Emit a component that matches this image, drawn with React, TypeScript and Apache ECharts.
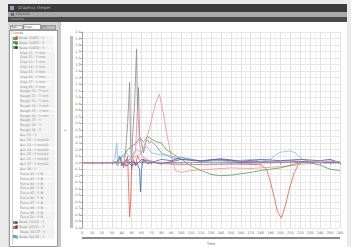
import React, { useEffect, useRef } from "react";
import * as echarts from "echarts";

// ---- data (x = time units, y = response) ----
const grayCurve: number[][] = [
  [0, 0], [30, 0], [34, 0.02], [36, -0.05], [38, 0.1], [40, 0.05], [42, -0.08], [44, 0.2], [46, 0.6], [48, 1.23],
  [49, 0.3], [50, -0.1], [51, 0.4], [53, 0.9], [55, 1.74], [56, 0.8], [57, 1.15], [58, 0.4], [60, 0.3], [62, 0.15],
  [64, 0.3], [66, 0.35], [68, 0.3], [70, 0.33], [75, 0.25], [80, 0.15], [90, 0.08], [100, 0.05], [120, 0.02],
  [150, 0.04], [180, 0.0], [210, 0.03], [240, 0.0], [260, 0.0],
];
const redCurve: number[][] = [
  [0, 0], [40, 0], [44, -0.05], [46, 0.1], [47, -0.4], [48, -0.83], [49, -0.6], [50, -0.1], [52, 0.05], [54, -0.05],
  [56, 0.1], [58, 0.05], [60, 0.02], [70, 0.0], [90, -0.02], [120, -0.03], [150, -0.02], [180, -0.03], [186, -0.1],
  [190, -0.3], [194, -0.55], [197, -0.75], [201, -0.85], [205, -0.65], [209, -0.4], [214, -0.15], [219, 0.0],
  [230, 0.02], [245, 0.0], [260, 0.0],
];
const salmonCurve: number[][] = [
  [0, 0], [42, 0], [48, 0.05], [55, 0.1], [60, 0.15], [65, 0.35], [70, 0.65], [74, 0.9], [78, 1.05], [82, 0.75],
  [86, 0.4], [90, 0.1], [94, -0.12], [100, -0.15], [110, -0.12], [130, -0.1], [150, -0.08], [170, -0.09],
  [190, -0.07], [210, -0.05], [222, -0.02], [240, 0.0], [260, 0.0],
];
const greenCurve: number[][] = [
  [0, 0], [35, 0], [38, 0.05], [42, 0.1], [46, 0.2], [50, 0.25], [55, 0.3], [58, 0.38], [62, 0.32], [66, 0.4],
  [70, 0.36], [75, 0.32], [80, 0.3], [85, 0.2], [90, 0.15], [95, 0.1], [100, 0.05], [110, -0.05], [120, -0.12],
  [130, -0.18], [140, -0.2], [150, -0.19], [160, -0.17], [170, -0.15], [180, -0.12], [190, -0.1], [200, -0.08],
  [210, -0.04], [220, 0.0], [230, 0.0], [240, -0.04], [250, -0.1], [260, -0.12],
];
const blueCurve: number[][] = [
  [0, 0], [35, 0], [38, 0.1], [40, -0.05], [45, 0.05], [50, -0.05], [55, 0.0], [58, -0.1], [59, -0.45], [60, -0.1],
  [62, 0.05], [66, -0.02], [70, 0.0], [80, 0.05], [90, 0.03], [100, 0.08], [110, 0.05], [120, 0.02], [130, 0.04],
  [140, 0.05], [160, 0.0], [180, 0.02], [200, 0.0], [220, 0.02], [240, 0.0], [260, 0.0],
];
const lightBlueCurve: number[][] = [
  [0, 0], [30, 0], [33, 0.05], [35, 0.3], [36, 0.05], [40, 0.1], [45, 0.15], [50, 0.05], [55, 0.2], [60, 0.15],
  [65, 0.25], [70, 0.15], [80, 0.12], [90, 0.1], [100, 0.08], [110, 0.05], [130, 0.0], [150, 0.02], [170, 0.05],
  [180, 0.02], [190, 0.05], [195, 0.12], [200, 0.16], [210, 0.18], [215, 0.15], [222, 0.05], [230, 0.02],
  [240, 0.0], [250, 0.03], [260, 0.0],
];
const navyCurve: number[][] = [
  [0, 0], [40, 0], [45, -0.05], [50, 0.02], [55, -0.03], [60, 0.05], [70, 0.02], [80, -0.02], [100, 0.05],
  [120, 0.03], [140, 0.06], [160, 0.02], [180, 0.05], [200, 0.03], [220, 0.05], [240, 0.03], [250, 0.05], [260, 0.0],
];
const pinkCurve: number[][] = [
  [0, 0], [40, 0], [50, 0.05], [54, 0.2], [56, 0.86], [58, 0.3], [60, 0.1], [65, 0.05], [75, 0.0], [100, -0.03],
  [150, -0.02], [200, 0.0], [260, 0.02],
];

const seriesNames = [
  "Node 10452 : Y", "Node 10453 : Y", "Node 10454 : Y", "Node 20311 : Y",
  "Node 20312 : Y", "Node 20313 : Y", "Node 30127 : Y", "Node 30128 : Y",
];
const seriesColors = ["#8c8c8c", "#e4604a", "#ee9484", "#5a9e5c", "#4668c4", "#86bde4", "#5a56a0", "#e48ab0"];
const seriesData = [grayCurve, redCurve, salmonCurve, greenCurve, blueCurve, lightBlueCurve, navyCurve, pinkCurve];

const listRows: string[] = [
  "Node 10452 : Y", "Node 10453 : Y", "Node 10454 : Y",
  "Disp 11 : Y mm", "Disp 12 : Y mm", "Disp 13 : Y mm", "Disp 14 : Y mm",
  "Disp 15 : Y mm", "Disp 16 : Y mm", "Disp 17 : Y mm", "Disp 18 : Y mm",
  "Rough 21 : Y mm", "Rough 22 : Y mm", "Rough 23 : Y mm", "Rough 24 : Y mm",
  "Rough 25 : Y mm", "Rough 26 : Y mm", "Rough 27 : Y", "Rough 28 : Y", "Rough 29 : Y",
  "Acc 31 : Y", "Acc 32 : Y mm/s2", "Acc 33 : Y mm/s2", "Acc 34 : Y mm/s2", "Acc 35 : Y mm/s2",
  "Acc 36 : Y mm/s2", "Acc 37 : Y mm/s2", "Acc 38 : Y", "Force 41 : Y N", "Force 42 : Y N",
  "Force 43 : Y N", "Force 44 : Y N", "Force 45 : Y N", "Force 46 : Y N", "Force 47 : Y N",
  "Force 48 : Y N", "Force 49 : Y N", "Force 50 : Y N", "Node 20311 : Y", "Node 20312 : Y",
  "Node 30127 : Y", "Node 30128 : Y",
];
const listIcons: Record<number, string> = { 0: "#e4573c", 1: "#4f9a52", 2: "#333333", 38: "#3a62c4", 39: "#c0392b", 41: "#79b6e2" };

const abs = (l: number, t: number, w: number, h: number, extra: React.CSSProperties = {}): React.CSSProperties => ({
  position: "absolute", left: l, top: t, width: w, height: h, ...extra,
});

function Chart() {
  const ref = useRef<HTMLDivElement>(null);
  useEffect(() => {
    if (!ref.current) return;
    const chart = echarts.init(ref.current, null, { renderer: "svg" });
    chart.setOption({
      animation: false,
      backgroundColor: "#ffffff",
      grid: { left: 21, top: 10, width: 258, height: 196, outerBoundsMode: "none", containLabel: false },
      xAxis: {
        type: "value", min: 0, max: 260, interval: 10,
        name: "Time", nameLocation: "middle", nameGap: 13,
        nameTextStyle: { fontSize: 4, color: "#777" },
        axisLine: { lineStyle: { color: "#a0a0a0", width: 1 } },
        axisTick: { length: 2, lineStyle: { color: "#a0a0a0" } },
        axisLabel: { fontSize: 3.5, color: "#6a6a6a", margin: 3, fontFamily: "DejaVu Sans" },
        splitLine: { show: true, lineStyle: { color: "#e2e2e2", width: 1 } },
        minorTick: { show: false, splitNumber: 2 },
        minorSplitLine: { show: true, lineStyle: { color: "#f1f1f1", width: 1 } },
      },
      yAxis: {
        type: "value", min: -1, max: 2, interval: 0.1,
        name: "Y", nameLocation: "middle", nameGap: 14, nameRotate: 90, nameMoveOverlap: false,
        nameTextStyle: { fontSize: 3.5, color: "#777" },
        axisLine: { show: true, lineStyle: { color: "#a0a0a0", width: 1 } },
        axisTick: { show: true, length: 1.5, lineStyle: { color: "#a0a0a0" } },
        axisLabel: { fontSize: 3.3, color: "#6a6a6a", margin: 1.5, fontFamily: "DejaVu Sans", formatter: (v: number) => v.toFixed(1) },
        splitLine: { show: true, lineStyle: { color: "#e6e6e6", width: 1 } },
      },
      series: seriesData.map((d, i) => ({
        type: "line", name: seriesNames[i], data: d, symbol: "none",
        lineStyle: { color: seriesColors[i], width: 0.9, opacity: 0.9 }, itemStyle: { color: seriesColors[i] },
      })),
    });
    return () => chart.dispose();
  }, []);
  return <div ref={ref} style={abs(61, 22, 286, 225)} />;
}

export default function App() {
  return (
    <div style={{ position: "fixed", left: 0, top: 0, width: 351, height: 247, background: "#eaeaea", overflow: "hidden", fontFamily: "DejaVu Sans" }}>
      <div style={abs(8, 4, 339, 243, { background: "#ffffff" })} />
      <div style={abs(8, 4, 339, 8, { background: "#3c3c3c" })} />
      <div style={abs(10, 6, 4, 4, { background: "#9a9a9a" })} />
      <div style={abs(18, 5, 60, 6, { fontSize: 4, color: "#b8b8b8", lineHeight: "6px", whiteSpace: "nowrap" })}>Graphics Viewer</div>
      <div style={abs(8, 12, 339, 5, { background: "#a9a9a9" })} />
      <div style={abs(11, 13, 3, 3, { background: "#7060a8" })} />
      <div style={abs(16, 12, 30, 5, { fontSize: 3.5, color: "#555", lineHeight: "5px", whiteSpace: "nowrap" })}>File  Edit</div>
      <div style={abs(8, 17, 339, 5, { background: "#4a4a4a" })} />
      <div style={abs(10, 18, 30, 3, { fontSize: 3, color: "#aaa", lineHeight: "3px", whiteSpace: "nowrap" })}>View  Plot</div>
      <div style={abs(8, 22, 53, 225, { background: "#d6d6d6" })} />
      <div style={abs(10, 25, 13, 5, { background: "#e8e8e8", border: "1px solid #aaa", boxSizing: "border-box", fontSize: 3, lineHeight: "3px", color: "#666", whiteSpace: "nowrap" })}>Res</div>
      <div style={abs(23, 24, 18, 6, { background: "#ffffff", border: "1px solid #999", boxSizing: "border-box", fontSize: 3, lineHeight: "4px", color: "#444", whiteSpace: "nowrap" })}>Props</div>
      <div style={abs(41, 25, 15, 5, { background: "#bdbdbd", border: "1px solid #999", boxSizing: "border-box", fontSize: 3, lineHeight: "3px", color: "#666", whiteSpace: "nowrap" })}>Filt</div>
      <div style={abs(9, 30, 49, 217, { background: "#ffffff", border: "1px solid #9a9a9a", boxSizing: "border-box" })} />
      <div style={abs(11, 31, 30, 4, { fontSize: 3.5, color: "#777", lineHeight: "4px", whiteSpace: "nowrap" })}>Curves</div>
      <div style={abs(12, 36, 1, 208, { background: "#d0d0d0" })} />
      {listRows.map((r, i) => {
        const top = 36 + i * 4.85;
        const icon = listIcons[i];
        return (
          <React.Fragment key={i}>
            {icon && <div style={abs(13, top + 0.5, 3, 3, { background: "#68a868" })} />}
            {icon && <div style={abs(15, top + 0.3, 3.4, 3.4, { background: icon, borderRadius: 2 })} />}
            <div style={abs(icon ? 19 : 20, top, 35, 4.5, { fontSize: 3.3, lineHeight: "4.5px", color: "#8a8a8a", whiteSpace: "nowrap", background: "#f2f2f2" })}>{r}</div>
          </React.Fragment>
        );
      })}
      <div style={abs(58, 22, 3, 225, { background: "#c8c8c8" })} />
      <Chart />
      <div style={abs(70, 36, 3, 192, { background: "#bdbdbd" })} />
      <div style={abs(82, 237, 258, 2, { background: "#8a8a8a" })} />
    </div>
  );
}
